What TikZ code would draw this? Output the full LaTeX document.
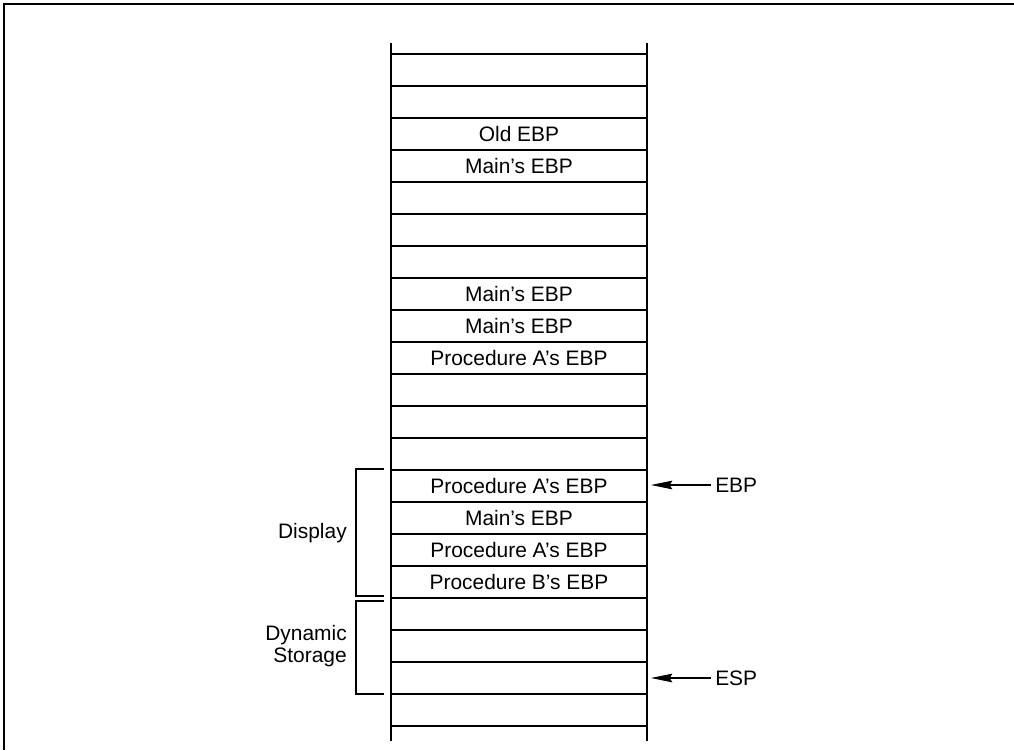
\documentclass[tikz,border=0pt]{standalone}
\usepackage{fontspec}
\setmainfont{Liberation Sans}
\usepackage{tikz}
\usetikzlibrary{arrows.meta,positioning,calc}

\begin{document}
\begin{tikzpicture}[
  x=0.75pt, y=-0.75pt,
  font=\fontsize{15.7}{16}\selectfont,
  cell/.style={draw, line width=0.9pt, minimum width=192pt, minimum height=24pt, inner sep=0pt, outer sep=0pt},
  wall/.style={line width=1.6pt},
  brk/.style={line width=0.8pt},
  ptr/.style={-{Stealth[length=16pt, width=6.5pt, inset=2pt]}, line width=0.8pt},
  lab/.style={inner sep=3pt, anchor=west},
  side/.style={align=right, anchor=east, inner sep=0pt}]
  \useasboundingbox (0,0) rectangle (1014,750);
  % frame
  \draw[line width=1.5pt] (4,750) -- (4,4) -- (1014,4);
  % stack cells
  \foreach \txt [count=\i] in {{},{},Old EBP,Main’s EBP,{},{},{},Main’s EBP,Main’s EBP,Procedure A’s EBP,{},{},{},Procedure A’s EBP,Main’s EBP,Procedure A’s EBP,Procedure B’s EBP,{},{},{},{}}
    \node[cell] (c\i) at (519,38+32*\i) {\txt};
  \draw[wall] ($(c1.north west)+(0,-11)$) -- ($(c21.south west)+(0,15)$);
  \draw[wall] ($(c1.north east)+(0,-11)$) -- ($(c21.south east)+(0,15)$);
  % brackets
  \draw[brk] ($(c14.north west)+(-7,-1)$) -| ($(c17.south west)+(-35,-2)$) -- ++(28,0);
  \draw[brk] ($(c18.north west)+(-7,3)$) -| ($(c20.south west)+(-35,0)$) -- ++(28,0);
  \node[side] (display) at (347,533) {Display};
  \node[side] (dynamic) at (347,646) {Dynamic\\Storage};
  % pointers
  \node[lab] (ebp) at (711,485) {EBP};
  \node[lab] (esp) at (711,678) {ESP};
  \draw[ptr] (ebp.west) -- ($(ebp.west -| c14.east)+(4,0)$);
  \draw[ptr] (esp.west) -- ($(esp.west -| c20.east)+(4,0)$);
\end{tikzpicture}
\end{document}
